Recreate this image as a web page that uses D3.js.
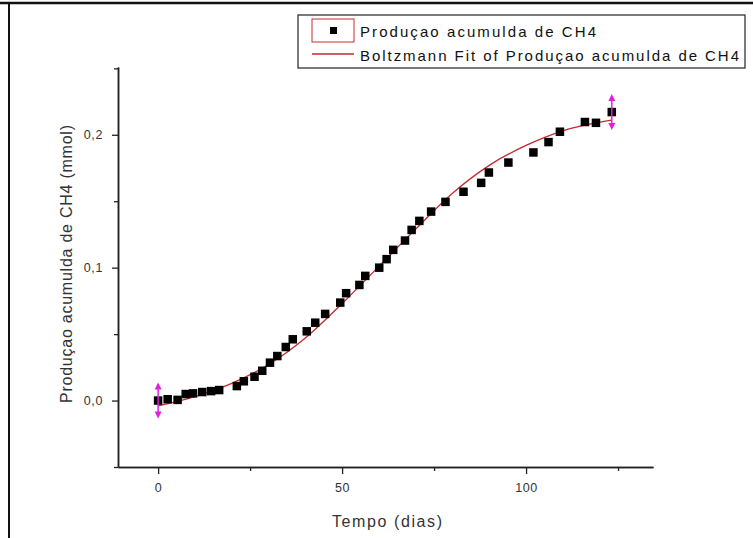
<!DOCTYPE html>
<html>
<head>
<meta charset="utf-8">
<script src="https://cdn.jsdelivr.net/npm/d3@7"></script>
<style>
  body { margin: 0; background: #fff; }
  text { font-family: "Liberation Sans", Arial, sans-serif; }
</style>
</head>
<body>
<svg id="chart" width="753" height="538"></svg>
<script>
// measured points (dias, mmol)
var days = [0, 2.6, 5.3, 7.5, 9.5, 12, 14.4, 16.6, 21.4, 23.3, 26.2, 28.3, 30.4, 32.4, 34.7, 36.6,
  40.4, 42.7, 45.4, 49.5, 51.1, 54.7, 56.3, 60.1, 62.1, 63.9, 67.1, 68.9, 71.0, 74.2, 78.1,
  83.0, 87.8, 89.9, 95.2, 102.0, 106.1, 109.2, 116.0, 119.0, 123.3];
var ch4 = [0.000, 0.001, 0.0005, 0.0049, 0.0054, 0.0064, 0.0071, 0.0079, 0.0109, 0.0145, 0.0179,
  0.0224, 0.0285, 0.0335, 0.0403, 0.0461, 0.0521, 0.0586, 0.0652, 0.0737, 0.0808, 0.0870, 0.0938,
  0.1000, 0.1064, 0.1134, 0.1204, 0.1284, 0.1352, 0.1422, 0.1495, 0.1571, 0.1638, 0.1716, 0.1791,
  0.1867, 0.1945, 0.2023, 0.2096, 0.2090, 0.2171];

// Boltzmann fit line
var fitDays = [0, 10, 20, 30, 40, 50, 60, 70, 80, 90, 100, 110, 123.3];
var fitCh4 = [-0.004, 0.003, 0.013, 0.027, 0.047, 0.073, 0.101, 0.129, 0.156, 0.177, 0.192, 0.203, 0.211];

// fit range markers (first and last point)
var rangeIdx = [0, days.length - 1];

var xMajor = [0, 50, 100], xMinor = [25, 75, 125];
var yMajor = [0, 0.1, 0.2], yMinor = [-0.05, 0.05, 0.15, 0.25];

var legendLabels = ["Produçao acumulda de CH4", "Boltzmann Fit of Produçao acumulda de CH4"];

var svg = d3.select('#chart');
var x = d3.scaleLinear().domain([-10.9, 134.5]).range([118, 653]);
var y = d3.scaleLinear().domain([-0.05, 0.251]).range([467, 67]);
var comma = d3.formatLocale({decimal: ",", thousands: ".", grouping: [3], currency: ["", ""]}).format(".1f");

// frame of the picture
svg.append('line').attr('x1', 0).attr('x2', 753).attr('y1', 3).attr('y2', 3).attr('stroke', '#111').attr('stroke-width', 2.5);
svg.append('line').attr('x1', 9).attr('x2', 9).attr('y1', 2).attr('y2', 538).attr('stroke', '#111').attr('stroke-width', 2);

// axes
var xAx = svg.append('g').attr('transform', 'translate(0,467)');
xAx.call(d3.axisBottom(x).tickValues(xMajor).tickSize(7).tickSizeOuter(0).tickPadding(9).tickFormat(d3.format('d')));
var xAxMin = svg.append('g').attr('transform', 'translate(0,467)');
xAxMin.call(d3.axisBottom(x).tickValues(xMinor).tickSize(4).tickSizeOuter(0).tickFormat(''));

var yAx = svg.append('g').attr('transform', 'translate(118,0)');
yAx.call(d3.axisLeft(y).tickValues(yMajor).tickSize(6).tickSizeOuter(0).tickPadding(9).tickFormat(comma));
var yAxMin = svg.append('g').attr('transform', 'translate(118,0)');
yAxMin.call(d3.axisLeft(y).tickValues(yMinor).tickSize(4).tickSizeOuter(0).tickFormat(''));

svg.selectAll('.domain').attr('stroke', '#222').attr('stroke-width', 1.5);
svg.selectAll('.tick line').attr('stroke', '#222').attr('stroke-width', 1.3);
svg.selectAll('.tick text').attr('fill', '#333').style('font-size', '12.5px').style('letter-spacing', '0.6px')
  .style('font-family', '"Liberation Sans", Arial, sans-serif');

// axis titles
svg.append('text').attr('x', 387).attr('y', 527).attr('text-anchor', 'middle')
  .attr('fill', '#333').style('font-size', '16px').attr('textLength', 110).attr('lengthAdjust', 'spacing')
  .text('Tempo (dias)');
svg.append('text').attr('transform', 'translate(72,264) rotate(-90)').attr('text-anchor', 'middle')
  .attr('fill', '#333').style('font-size', '16px').attr('textLength', 278).attr('lengthAdjust', 'spacing')
  .text('Produçao acumulda de CH4 (mmol)');

// fit curve
var line = d3.line().x(function(d) { return x(d[0]); }).y(function(d) { return y(d[1]); }).curve(d3.curveMonotoneX);
svg.append('path').attr('d', line(d3.zip(fitDays, fitCh4)))
  .attr('fill', 'none').attr('stroke', '#c42a30').attr('stroke-width', 1.3);

// data points
var s = 8.5;
svg.append('g').selectAll('rect').data(d3.zip(days, ch4)).enter().append('rect')
  .attr('x', function(d) { return x(d[0]) - s / 2; })
  .attr('y', function(d) { return y(d[1]) - s / 2; })
  .attr('width', s).attr('height', s).attr('fill', '#000');

// magenta range arrows
var half = 0.0135;
var arrows = svg.append('g').attr('stroke', '#e020e0').attr('fill', '#e020e0');
rangeIdx.forEach(function(i) {
  var cx = x(days[i]), top = y(ch4[i] + half), bot = y(ch4[i] - half);
  arrows.append('line').attr('x1', cx).attr('x2', cx).attr('y1', top + 2).attr('y2', bot - 2).attr('stroke-width', 1.5);
  arrows.append('path').attr('stroke', 'none')
    .attr('d', 'M' + cx + ',' + top + 'l-3.5,7l7,0z');
  arrows.append('path').attr('stroke', 'none')
    .attr('d', 'M' + cx + ',' + bot + 'l-3.5,-7l7,0z');
});

// legend
var lg = svg.append('g');
lg.append('rect').attr('x', 298).attr('y', 15).attr('width', 447).attr('height', 53)
  .attr('fill', '#fff').attr('stroke', '#222').attr('stroke-width', 1.2);
lg.append('rect').attr('x', 312).attr('y', 19).attr('width', 42).attr('height', 23)
  .attr('fill', 'none').attr('stroke', '#d02a30').attr('stroke-width', 1);
lg.append('rect').attr('x', 330).attr('y', 27).attr('width', 7).attr('height', 7).attr('fill', '#000');
lg.append('line').attr('x1', 312).attr('x2', 354).attr('y1', 54).attr('y2', 54)
  .attr('stroke', '#c42a30').attr('stroke-width', 1.3);
lg.selectAll('text.lbl').data(legendLabels).enter().append('text').attr('class', 'lbl')
  .attr('x', 360).attr('y', function(d, i) { return 37 + i * 24; })
  .attr('fill', '#111').style('font-size', '15px')
  .attr('textLength', function(d, i) { return i ? 379 : 236; }).attr('lengthAdjust', 'spacing')
  .text(function(d) { return d; });
</script>
</body>
</html>
